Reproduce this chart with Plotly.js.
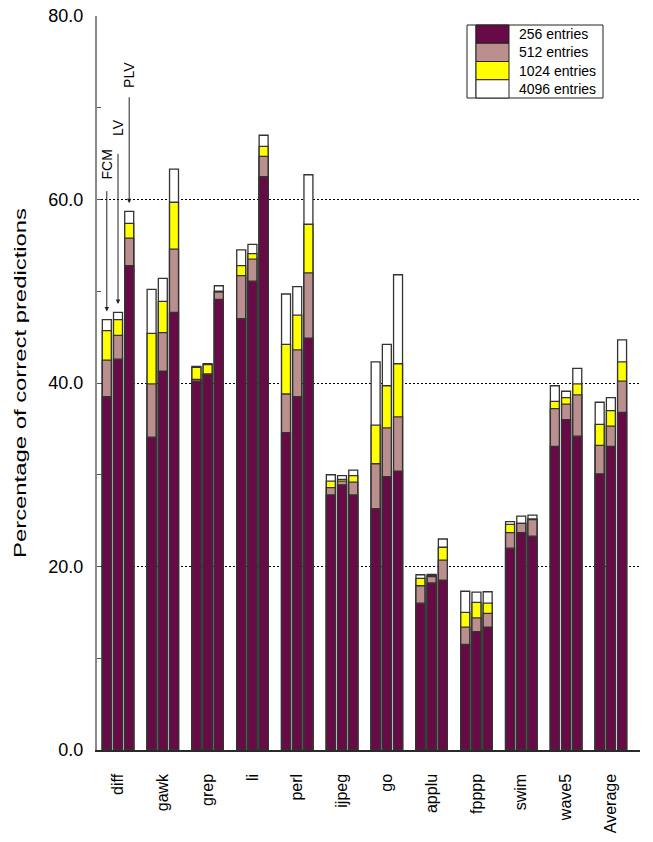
<!DOCTYPE html>
<html>
<head>
<meta charset="utf-8">
<script src="https://cdn.plot.ly/plotly-3.0.1.min.js"></script>
<style>
  html, body { margin: 0; padding: 0; background: #fff; }
  #chart { width: 653px; height: 842px; }
</style>
</head>
<body>
<div id="chart"></div>
<script>
// ---- Data (percentage of correct predictions; cumulative by table size) ----
const benchmarks = ['diff','gawk','grep','li','perl','ijpeg','go','applu','fpppp','swim','wave5','Average'];
const predictors = ['FCM','LV','PLV'];

// each row: [FCM, LV, PLV]
const pct256 = [
  [38.5,42.6,52.8],[34.1,41.3,47.7],[40.2,40.9,49.1],[47.0,51.1,62.5],
  [34.6,38.5,44.9],[27.8,28.9,27.8],[26.3,29.8,30.4],[16.0,18.2,18.5],
  [11.5,12.9,13.4],[22.0,23.7,23.3],[33.1,36.0,34.2],[30.1,33.1,36.8]
];
const pct512 = [
  [42.5,45.2,55.8],[39.9,45.5,54.6],[40.4,41.0,49.9],[51.7,53.5,64.7],
  [38.8,43.6,52.0],[28.6,29.3,29.2],[31.2,35.1,36.3],[17.9,18.9,20.7],
  [13.4,14.4,14.9],[23.7,24.7,25.1],[37.2,37.7,38.7],[33.2,35.3,40.2]
];
const pct1024 = [
  [45.7,46.9,57.4],[45.4,48.9,59.7],[41.7,42.0,50.0],[52.8,54.1,65.8],
  [44.2,47.4,57.3],[29.3,29.5,29.9],[35.4,39.7,42.1],[18.7,19.0,22.1],
  [15.0,16.1,16.0],[24.6,24.7,25.2],[38.0,38.4,39.9],[35.5,37.0,42.3]
];
const pct4096 = [
  [46.9,47.7,58.7],[50.2,51.4,63.3],[41.8,42.1,50.6],[54.5,55.1,67.0],
  [49.7,50.5,62.7],[30.0,29.9,30.5],[42.3,44.2,51.8],[19.1,19.15,23.0],
  [17.3,17.2,17.25],[24.9,25.5,25.6],[39.7,39.1,41.6],[37.9,38.4,44.7]
];
const seriesNames = ['256 entries','512 entries','1024 entries','4096 entries'];
const seriesColors = ['#670A46','#BC8F8F','#FFFF00','#FFFFFF'];
const seriesData = [pct256, pct512, pct1024, pct4096];

// ---- Build traces ----
const SLOTS = 4; // 3 bars + gap per group
const xs = [], labelsX = [];
benchmarks.forEach((b, g) => {
  predictors.forEach((p, j) => xs.push(g * SLOTS + j));
  labelsX.push(g * SLOTS + 1);
});

const traces = [];
// overlay: tallest (4096) first, 256 last (on top)
for (let k = seriesData.length - 1; k >= 0; k--) {
  const ys = [];
  seriesData[k].forEach(row => row.forEach(v => ys.push(v)));
  traces.push({
    type: 'bar',
    name: seriesNames[k],
    x: xs,
    y: ys,
    width: 0.8,
    marker: { color: seriesColors[k], line: { color: '#333333', width: 1.3 } },
    showlegend: false,
    hoverinfo: 'y'
  });
}

// ---- Layout helpers ----
const W = 653, H = 842;
const M = { l: 97, r: 13, t: 16, b: 92 };
const PW = W - M.l - M.r, PH = H - M.t - M.b;
const px = v => (v - M.l) / PW;
const py = v => (M.t + PH - v) / PH;

const shapes = [];
const annotations = [];

// custom legend (box with tall swatches)
const LG = { x0: 467, x1: 603, sx0: 476, sx1: 509, y0: 25, rowH: 18.25, tx: 517 };
shapes.push({ type: 'rect', xref: 'paper', yref: 'paper',
  x0: px(LG.x0), x1: px(LG.x1), y0: py(LG.y0), y1: py(LG.y0 + 4 * LG.rowH),
  line: { color: '#222', width: 1 }, fillcolor: '#fff', layer: 'above' });
shapes.push({ type: 'line', xref: 'paper', yref: 'paper',
  x0: px(LG.sx0), x1: px(LG.sx0), y0: py(LG.y0), y1: py(LG.y0 + 4 * LG.rowH),
  line: { color: '#222', width: 1 }, layer: 'above' });
seriesNames.forEach((n, i) => {
  const top = LG.y0 + i * LG.rowH;
  shapes.push({ type: 'rect', xref: 'paper', yref: 'paper',
    x0: px(LG.sx0), x1: px(LG.sx1), y0: py(top), y1: py(top + LG.rowH),
    line: { color: '#222', width: 1 }, fillcolor: seriesColors[i], layer: 'above' });
  annotations.push({ xref: 'paper', yref: 'paper', x: px(LG.tx), y: py(top + LG.rowH / 2),
    xanchor: 'left', yanchor: 'middle', text: n, showarrow: false,
    font: { family: 'Liberation Sans, Arial, sans-serif', size: 14, color: '#000' } });
});

// predictor labels with arrows on the first group
const labelY = [63.8, 67.8, 73.6];
const standoffs = [10, 16, 8];
predictors.forEach((p, j) => {
  const top = pct4096[0][j];
  annotations.push({
    x: j, y: top + 0.9, xref: 'x', yref: 'y',
    ax: j, ay: labelY[j], axref: 'x', ayref: 'y',
    text: p, textangle: -90, showarrow: true,
    arrowhead: 2, arrowsize: 0.9, arrowwidth: 1, arrowcolor: '#222',
    startstandoff: standoffs[j],
    font: { family: 'Liberation Sans, Arial, sans-serif', size: 14, color: '#000' }
  });
});

const layout = {
  width: W, height: H,
  margin: M,
  paper_bgcolor: '#fff', plot_bgcolor: '#fff',
  barmode: 'overlay',
  bargap: 0,
  font: { family: 'Liberation Sans, Arial, sans-serif', color: '#000' },
  xaxis: {
    range: [-0.875, 47.6],
    tickmode: 'array', tickvals: labelsX, ticktext: benchmarks,
    tickangle: -90, ticks: '', ticklabelstandoff: 16,
    tickfont: { size: 16, color: '#000' },
    showgrid: false, zeroline: false,
    showline: true, linecolor: '#2a2a2a', linewidth: 1.5
  },
  yaxis: {
    range: [0, 80],
    tickmode: 'array', tickvals: [0, 20, 40, 60, 80], tickformat: '.1f',
    ticks: 'inside', ticklen: 4, tickcolor: '#555', tickwidth: 1,
    tickfont: { size: 18, color: '#000' }, ticklabelstandoff: 8,
    showline: true, linecolor: '#8a8a8a', linewidth: 2,
    showgrid: true, gridcolor: '#000', gridwidth: 1, griddash: '2px,2px',
    zeroline: false,
    minor: { tickvals: [10, 30, 50, 70], ticks: 'inside', ticklen: 4, tickcolor: '#555', showgrid: false },
    title: { text: 'Percentage of correct predictions', standoff: 18,
      font: { size: 16, color: '#000', family: 'Liberation Sans, Arial, sans-serif' } }
  },
  shapes: shapes,
  annotations: annotations,
  showlegend: false
};

Plotly.newPlot('chart', traces, layout, { displayModeBar: false, staticPlot: true }).then(() => {
  const t = document.querySelector('.ytitle');
  if (t) {
    t.setAttribute('textLength', '350');
    t.setAttribute('lengthAdjust', 'spacingAndGlyphs');
  }
});
</script>
</body>
</html>
